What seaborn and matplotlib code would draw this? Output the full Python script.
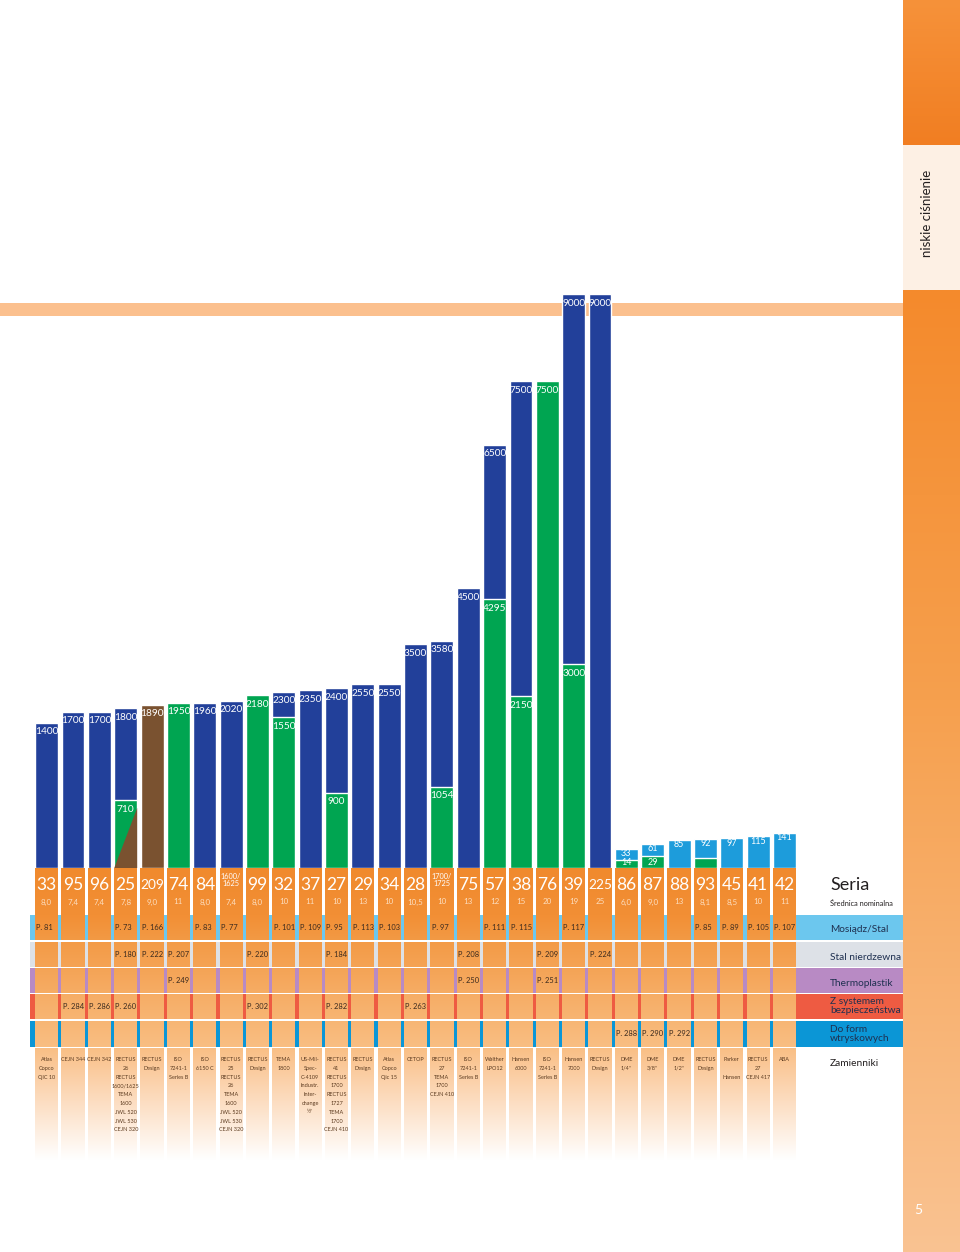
import numpy as np
import pandas as pd
import matplotlib.pyplot as plt
import matplotlib.colors as mcolors
from matplotlib.patches import Polygon, Rectangle
import seaborn as sns

# --- dane: seria, średnica nominalna, ciśnienie rozrywające ---
seria = ['33', '95', '96', '25', '209', '74', '84', '1600/1625', '99', '32', '37',
         '27', '29', '34', '28', '1700/1725', '75', '57', '38', '76', '39', '225',
         '86', '87', '88', '93', '45', '41', '42']
srednica = ['8,0', '7,4', '7,4', '7,8', '9,0', '11', '8,0', '7,4', '8,0', '10', '11',
            '10', '13', '10', '10,5', '10', '13', '12', '15', '20', '19', '25',
            '6,0', '9,0', '13', '8,1', '8,5', '10', '11']
cisnienie = [1400, 1700, 1700, 1800, 1890, 1950, 1960, 2020, 2180, 2300, 2350,
             2400, 2550, 2550, 3500, 3580, 4500, 6500, 7500, 7500, 9000, 9000,
             33, 61, 85, 92, 97, 115, 141]
kolor = ['nieb', 'nieb', 'nieb', 'nieb', 'braz', 'ziel', 'nieb', 'nieb', 'ziel', 'nieb', 'nieb',
         'nieb', 'nieb', 'nieb', 'nieb', 'nieb', 'nieb', 'nieb', 'nieb', 'ziel', 'nieb', 'nieb',
         'jasny', 'jasny', 'jasny', 'jasny', 'jasny', 'jasny', 'jasny']

# wartości wewnętrzne (zielone części słupków)
wew_seria = ['25', '32', '27', '1700/1725', '57', '38', '39', '86', '87', '93']
wew_cisnienie = [710, 1550, 900, 1054, 4295, 2150, 3000, 14, 29, 20]
wew_etykieta = ['710', '1550', '900', '1054', '4295', '2150', '3000', '14', '29', '']

# numery stron w wierszach
strony_mosiadz = {'33': 81, '25': 73, '209': 166, '84': 83, '1600/1625': 77, '32': 101,
                  '37': 109, '27': 95, '29': 113, '34': 103, '1700/1725': 97, '57': 111,
                  '38': 115, '39': 117, '93': 85, '45': 89, '41': 105, '42': 107}
strony_nierdz = {'25': 180, '209': 222, '74': 207, '99': 220, '27': 184, '75': 208,
                 '76': 209, '225': 224}
strony_thermo = {'74': 249, '75': 250, '76': 251}
strony_bezp = {'95': 284, '96': 286, '25': 260, '99': 302, '27': 282, '28': 263}
strony_formy = {'86': 288, '87': 290, '88': 292}

zamienniki = [
    'Atlas\nCopco\nQIC 10', 'CEJN 344', 'CEJN 342',
    'RECTUS\n26\nRECTUS\n1600/1625\nTEMA\n1600\nJWL 520\nJWL 530\nCEJN 320',
    'RECTUS\nDesign', 'ISO\n7241-1\nSeries B', 'ISO\n6150 C',
    'RECTUS\n25\nRECTUS\n26\nTEMA\n1600\nJWL 520\nJWL 530\nCEJN 320',
    'RECTUS\nDesign', 'TEMA\n1800',
    'US-Mil-\nSpec-\nC-4109\nIndustr.\nInter-\nchange\n½"',
    'RECTUS\n41\nRECTUS\n1700\nRECTUS\n1727\nTEMA\n1700\nCEJN 410',
    'RECTUS\nDesign', 'Atlas\nCopco\nQic 15', 'CETOP',
    'RECTUS\n27\nTEMA\n1700\nCEJN 410', 'ISO\n7241-1\nSeries B', 'Walther\nLPO12',
    'Hansen\n6000', 'ISO\n7241-1\nSeries B', 'Hansen\n7000', 'RECTUS\nDesign',
    'DME\n1/4"', 'DME\n3/8"', 'DME\n1/2"', 'RECTUS\nDesign', 'Parker\n\nHansen',
    'RECTUS\n27\nCEJN 417', 'ABA']

PALETA = {'nieb': '#22409A', 'ziel': '#00A551', 'braz': '#7A5230', 'jasny': '#1D9CDB'}

# skala osi y: odcinkowo liniowa w pierwiastku (wykres "nie w skali")
SKALA_WART = np.sqrt([0, 29, 33, 141, 1054, 1400, 2550, 3580, 4500, 9000])
SKALA_POZ = np.array([0, 12, 19, 35, 81, 145, 184, 227, 280, 574])


def fwd(v):
    return np.interp(np.sqrt(np.clip(v, 0, None)), SKALA_WART, SKALA_POZ)


def inv(p):
    return np.interp(p, SKALA_POZ, SKALA_WART) ** 2


def gradient(stops, y):
    pos = [s[0] for s in stops]
    cols = np.array([mcolors.to_rgb(s[1]) for s in stops])
    return np.stack([np.interp(y, pos, cols[:, k]) for k in range(3)], axis=-1)


sns.set_theme(style='white')
plt.rcParams['font.family'] = ['Lato', 'DejaVu Sans']

W, H = 960, 1252
fig = plt.figure(figsize=(W / 100, H / 100), dpi=100)
fig.patch.set_facecolor('white')


def box(x0, y0, x1, y1):
    return [x0 / W, 1 - y1 / H, (x1 - x0) / W, (y1 - y0) / H]


XLIM = (-0.633, 32.498)

# --- tło: pasek boczny i linia 9000 ---
ax_bg = fig.add_axes([0, 0, 1, 1], zorder=-1)
ax_bg.add_patch(Rectangle((0, 303), 903, 13, color='#FBC08E', lw=0))
ax_bg.imshow(gradient([(0, '#F6923A'), (145, '#F17E22')], np.arange(0, 146))[:, None, :],
             extent=(903, 960, 145, 0), aspect='auto')
ax_bg.add_patch(Rectangle((903, 145), 57, 145, color='#FDF0E4', lw=0))
ax_bg.imshow(gradient([(290, '#F48A2C'), (700, '#F6A04E'), (1252, '#FAC392')],
                      np.arange(290, 1253))[:, None, :],
             extent=(903, 960, 1252, 290), aspect='auto')
ax_bg.set_xlim(0, W)
ax_bg.set_ylim(H, 0)
ax_bg.axis('off')
fig.text(927 / W, 1 - 213 / H, 'niskie ciśnienie', rotation=90, ha='center', va='center',
         fontsize=9.5, color='#231F20')
fig.text(918 / W, 1 - 1210 / H, '5', ha='center', va='center', fontsize=10, color='white')

# --- słupki ---
ax = fig.add_axes(box(30, 294, 903, 868))
df_tot = pd.DataFrame({'seria': seria, 'cisnienie': cisnienie, 'kolor': kolor})
sns.barplot(data=df_tot, x='seria', y='cisnienie', hue='kolor', order=seria, palette=PALETA,
            dodge=False, width=0.87, saturation=1, errorbar=None, legend=False, ax=ax,
            zorder=2)
df_in = pd.DataFrame({'seria': wew_seria, 'cisnienie': wew_cisnienie,
                      'kolor': ['ziel'] * len(wew_seria)})
sns.barplot(data=df_in, x='seria', y='cisnienie', hue='kolor', order=seria, palette=PALETA,
            dodge=False, width=0.87, saturation=1, errorbar=None, legend=False, ax=ax,
            zorder=3)
ax.set_yscale('function', functions=(fwd, inv))

# brązowy klin w serii 25
i25 = seria.index('25')
v25 = wew_cisnienie[wew_seria.index('25')]
ax.add_patch(Polygon([(i25 + 0.435, 0), (i25 + 0.435, v25 * 0.75), (i25 - 0.435, 0)],
                     closed=True, color=PALETA['braz'], lw=0, zorder=4))

for i, v in enumerate(cisnienie):
    small = v < 500
    ax.annotate(str(v), (i, v), xytext=(0, -5 if small else -9), textcoords='offset pixels',
                ha='center', va='center', color='white', fontsize=6.5 if small else 7.3,
                zorder=6)
for s, v, t in zip(wew_seria, wew_cisnienie, wew_etykieta):
    if not t:
        continue
    if v < 500:
        # małe wartości: etykieta przy podstawie słupka
        ax.annotate(t, (seria.index(s), 0), xytext=(0, 5.5), textcoords='offset pixels',
                    ha='center', va='center', color='white', fontsize=6.5, zorder=6)
    else:
        ax.annotate(t, (seria.index(s), v), xytext=(0, -9), textcoords='offset pixels',
                    ha='center', va='center', color='white', fontsize=7.3, zorder=6)
ax.set_ylim(0, 9000)
ax.set_xlim(*XLIM)
ax.axis('off')

# --- tabela ---
ax_t = fig.add_axes(box(30, 868, 903, 1165))
n = len(seria)
yy = np.arange(868, 1161)
ax_t.imshow(gradient([(868, '#F08A2D'), (915, '#F28F35'), (940, '#F39A45'),
                      (992, '#F6AC64'), (1046, '#F9BE82'), (1060, '#FAC592'),
                      (1100, '#FCDCBF'), (1160, '#FFFFFF')], yy)[:, None, :],
            extent=(-0.5, n - 0.5, 1160, 868), aspect='auto', zorder=1)

HW = 0.44
gaps = [(XLIM[0], -HW)] + [(i + HW, i + 1 - HW) for i in range(n - 1)] + [(n - 1 + HW, XLIM[1])]
wiersze = [(868, 915, 'white'), (915, 940, '#6CC7EE'), (942, 966.5, '#DDE1E7'),
           (968, 992.5, '#B88AC4'), (994, 1019, '#EE5B42'), (1021, 1046.5, '#0B96D6'),
           (1046.5, 1165, 'white')]
for y0, y1, c in wiersze:
    for g0, g1 in gaps:
        ax_t.add_patch(Rectangle((g0, y0), g1 - g0, y1 - y0, color=c, lw=0, zorder=2))
for y0, y1 in [(940, 942), (966.5, 968), (992.5, 994), (1019, 1021), (1046.5, 1048)]:
    ax_t.add_patch(Rectangle((XLIM[0], y0), XLIM[1] - XLIM[0], y1 - y0, color='white',
                             lw=0, zorder=3))

for i, (s, d) in enumerate(zip(seria, srednica)):
    if '/' in s:
        a, b = s.split('/')
        ax_t.text(i, 876.5, a + '/', ha='center', va='center', fontsize=5.3, color='white',
                  zorder=5)
        ax_t.text(i, 884, b, ha='center', va='center', fontsize=5.3, color='white', zorder=5)
    else:
        ax_t.text(i, 885, s, ha='center', va='center', fontsize=9.8 if len(s) > 2 else 12.5,
                  color='white', zorder=5)
    ax_t.text(i, 902, d, ha='center', va='center', fontsize=5.8, color='#FCDDBE', zorder=5)

for (y0, y1, _), strony in zip(wiersze[1:6], [strony_mosiadz, strony_nierdz, strony_thermo,
                                             strony_bezp, strony_formy]):
    for s, p in strony.items():
        ax_t.text(seria.index(s) - 0.39, (y0 + y1) / 2, f'P. {p}', ha='left', va='center',
                  fontsize=5.4, color='#3B2A1E', zorder=5)

for i, z in enumerate(zamienniki):
    ax_t.text(i, 1057, z, ha='center', va='top', fontsize=4.0, linespacing=1.95,
              color='#5C3B20', zorder=5)

ax_t.set_xlim(*XLIM)
ax_t.set_ylim(1165, 868)
ax_t.axis('off')

# --- opisy wierszy ---
opisy = [(885, 'Seria', 13, '#231F20'), (903, 'Średnica nominalna', 5.3, '#231F20'),
         (930, 'Mosiądz/Stal', 7.3, '#1F3050'), (957, 'Stal nierdzewna', 7.3, '#1F3050'),
         (984, 'Thermoplastik', 7.3, '#1F3050'),
         (1006, 'Z systemem\nbezpieczeństwa', 7.3, '#1F3050'),
         (1034, 'Do form\nwtryskowych', 7.3, '#1F3050'), (1064, 'Zamienniki', 7.3, '#231F20')]
for y, t, fs, c in opisy:
    fig.text(830 / W, 1 - y / H, t, ha='left', va='center', fontsize=fs, color=c,
             linespacing=0.95)

fig.savefig('out.png', dpi=100, facecolor='white')
